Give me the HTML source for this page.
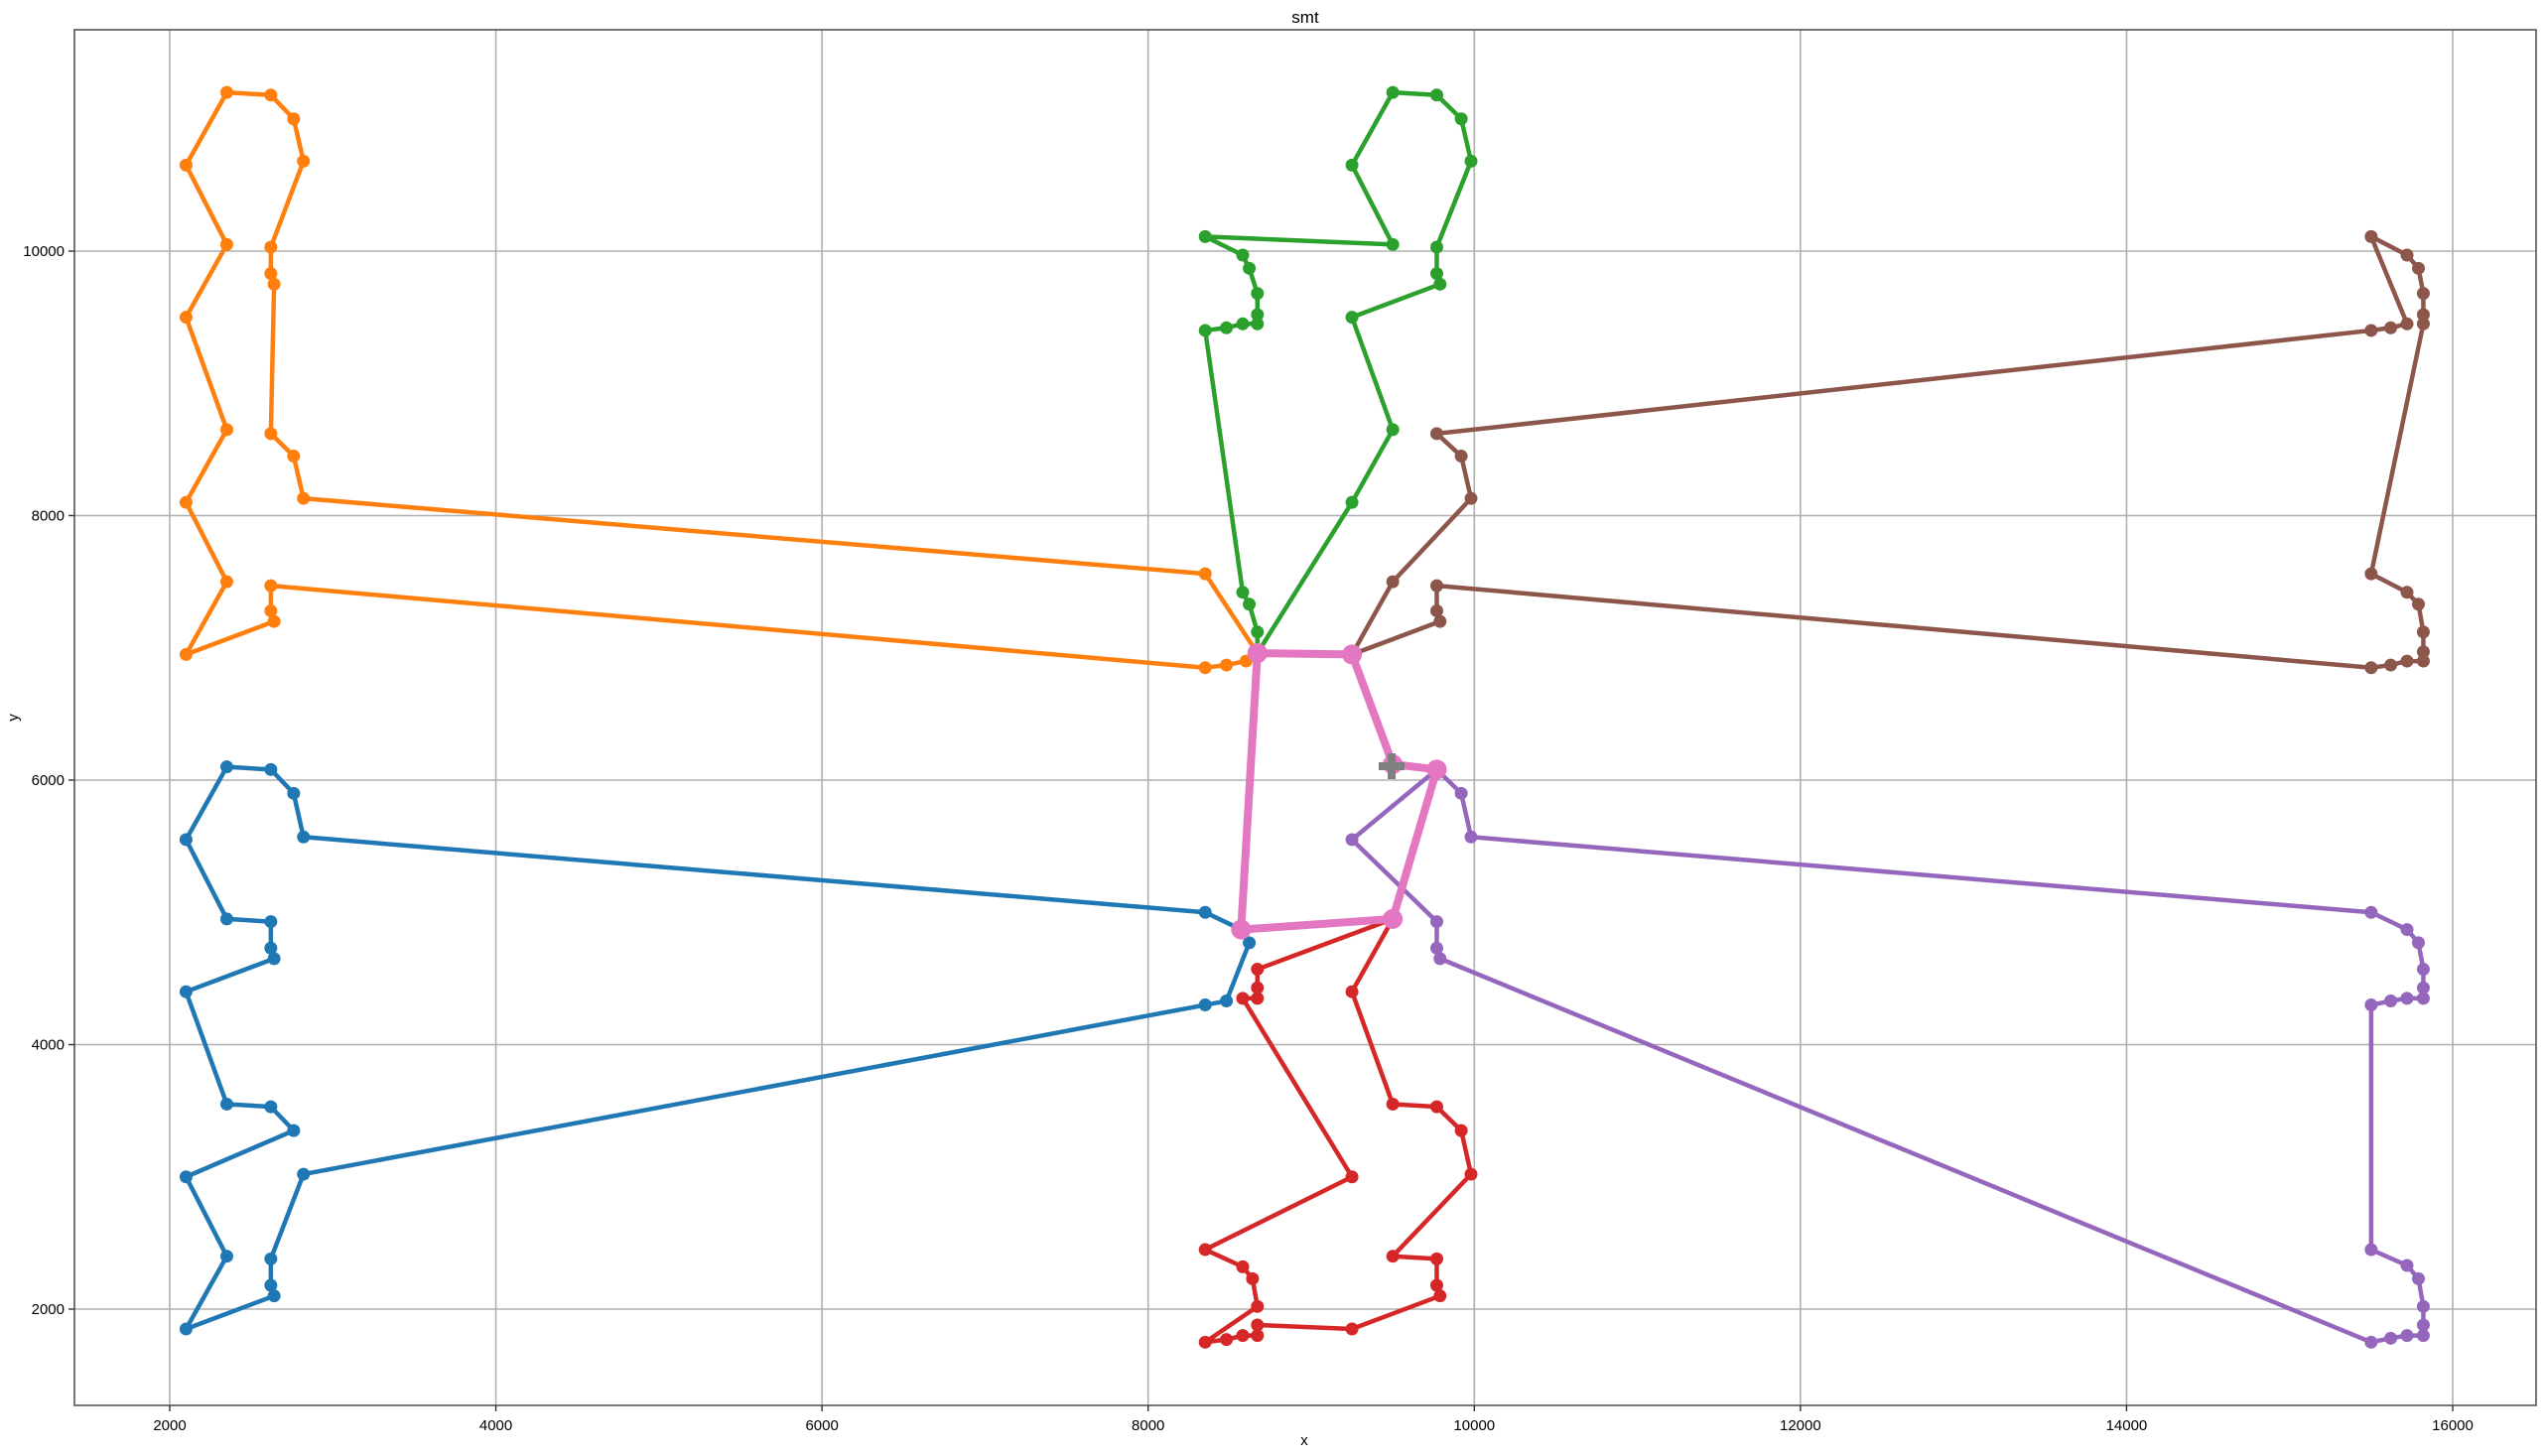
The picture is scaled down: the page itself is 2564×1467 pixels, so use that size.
<!DOCTYPE html>
<html><head><meta charset="utf-8"><style>
body{margin:0;background:#fff}
svg{display:block;font-family:"Liberation Sans",sans-serif}
</style></head><body>
<svg id="chart" width="2564" height="1467" viewBox="0 0 2564 1467">
<rect x="0" y="0" width="2564" height="1467" fill="#fff"/>
<g id="grid"></g>
<g id="series"></g>
<rect x="75" y="30" width="2480" height="1386" fill="none" stroke="#555" stroke-width="1.6"/>
<g id="ticks"></g>
<text x="1315" y="23" text-anchor="middle" font-size="17">smt</text>
<text x="1314" y="1456" text-anchor="middle" font-size="15">x</text>
<text x="18" y="723" text-anchor="middle" font-size="15" transform="rotate(-90 18 723)">y</text>
</svg>
<script>
const xTicks=[2000,4000,6000,8000,10000,12000,14000,16000];
const yTicks=[2000,4000,6000,8000,10000];
const routeBlue=[[8570,4870],[8620,4770],[8480,4330],[8350,4300],[2820,3020],[2620,2380],[2620,2180],[2640,2100],[2100,1850],[2350,2400],[2100,3000],[2760,3350],[2620,3530],[2350,3550],[2100,4400],[2640,4650],[2620,4730],[2620,4930],[2350,4950],[2100,5550],[2350,6100],[2620,6080],[2760,5900],[2820,5570],[8350,5000],[8570,4870]];
const routeOrange=[[8670,6960],[8600,6900],[8480,6870],[8350,6850],[2620,7470],[2620,7280],[2640,7200],[2100,6950],[2350,7500],[2100,8100],[2350,8650],[2100,9500],[2350,10050],[2100,10650],[2350,11200],[2620,11180],[2760,11000],[2820,10680],[2620,10030],[2620,9830],[2640,9750],[2620,8620],[2760,8450],[2820,8130],[8350,7560],[8670,6960]];
const routeGreen=[[8670,6960],[8670,7120],[8620,7330],[8580,7420],[8350,9400],[8480,9420],[8580,9450],[8670,9450],[8670,9520],[8670,9680],[8620,9870],[8580,9970],[8350,10110],[9500,10050],[9250,10650],[9500,11200],[9770,11180],[9920,11000],[9980,10680],[9770,10030],[9770,9830],[9790,9750],[9250,9500],[9500,8650],[9250,8100],[8670,6960]];
const routeRed=[[9500,4950],[8670,4570],[8670,4430],[8670,4350],[8580,4350],[9250,3000],[8350,2450],[8580,2320],[8640,2230],[8670,2020],[8350,1750],[8480,1770],[8580,1800],[8670,1800],[8670,1880],[9250,1850],[9790,2100],[9770,2180],[9770,2380],[9500,2400],[9980,3020],[9920,3350],[9770,3530],[9500,3550],[9250,4400],[9500,4950]];
const routePurple=[[9770,6080],[9250,5550],[9770,4930],[9770,4730],[9790,4650],[15500,1750],[15620,1780],[15720,1800],[15820,1800],[15820,1880],[15820,2020],[15790,2230],[15720,2330],[15500,2450],[15500,4300],[15620,4330],[15720,4350],[15820,4350],[15820,4430],[15820,4570],[15790,4770],[15720,4870],[15500,5000],[9980,5570],[9920,5900],[9770,6080]];
const routeBrown=[[9250,6950],[9500,7500],[9980,8130],[9920,8450],[9770,8620],[15500,9400],[15620,9420],[15720,9450],[15500,10110],[15720,9970],[15790,9870],[15820,9680],[15820,9520],[15820,9450],[15500,7560],[15720,7420],[15790,7330],[15820,7120],[15820,6970],[15820,6900],[15720,6900],[15620,6870],[15500,6850],[9770,7470],[9770,7280],[9790,7200],[9250,6950]];
const routePink=[[8670,6960],[9250,6950],[9500,6120],[9770,6080],[9500,4950],[8570,4870],[8670,6960]];
const depot=[9493,6105];

const NS='http://www.w3.org/2000/svg';
function sx(v){return 171+(v-2000)*0.164286;}
function sy(v){return 1319-(v-2000)*0.13325;}
function mk(tag,attrs,parent){const e=document.createElementNS(NS,tag);for(const k in attrs)e.setAttribute(k,attrs[k]);parent.appendChild(e);return e;}
const grid=document.getElementById('grid'),ticks=document.getElementById('ticks'),series=document.getElementById('series');
xTicks.forEach(t=>{const X=sx(t);
 const g=mk('line',{x1:X,x2:X,y1:30,y2:1416,stroke:'#b0b0b0','stroke-width':1.6},grid);
 
 
 mk('line',{x1:X,x2:X,y1:1416,y2:1422,stroke:'#333','stroke-width':1.4},ticks);
 const tx=mk('text',{x:X,y:1441,'text-anchor':'middle','font-size':15},ticks);tx.textContent=t;
 
 
});
yTicks.forEach(t=>{const Y=sy(t);
 const g=mk('line',{x1:75,x2:2555,y1:Y,y2:Y,stroke:'#b0b0b0','stroke-width':1.6},grid);
 
 
 mk('line',{x1:69,x2:75,y1:Y,y2:Y,stroke:'#333','stroke-width':1.4},ticks);
 const tx=mk('text',{x:65,y:Y+5,'text-anchor':'end','font-size':15},ticks);tx.textContent=t;
 
 
});
function drawRoute(pts,color,w,r,name){
 const g=mk('g',{},series);
 
 
 mk('polyline',{points:pts.map(p=>sx(p[0])+','+sy(p[1])).join(' '),fill:'none',stroke:color,'stroke-width':w,'stroke-linejoin':'round'},g);
 pts.forEach(p=>{const c=mk('circle',{cx:sx(p[0]),cy:sy(p[1]),r:r,fill:color},g);
  
  });
}
drawRoute(routeBlue,'#1f77b4',4.5,6.5,'route-blue');
drawRoute(routeOrange,'#ff7f0e',4.5,6.5,'route-orange');
drawRoute(routeGreen,'#2ca02c',4.5,6.5,'route-green');
drawRoute(routeRed,'#d62728',4.5,6.5,'route-red');
drawRoute(routePurple,'#9467bd',4.5,6.5,'route-purple');
drawRoute(routeBrown,'#8c564b',4.5,6.5,'route-brown');
drawRoute(routePink,'#e377c2',8,10,'route-pink');
const dx=sx(depot[0]),dy=sy(depot[1]);
const plus=mk('path',{d:`M${dx-4},${dy-13}h8v9h9v8h-9v9h-8v-9h-9v-8h9z`,fill:'#7f7f7f'},series);


</script>
</body></html>
